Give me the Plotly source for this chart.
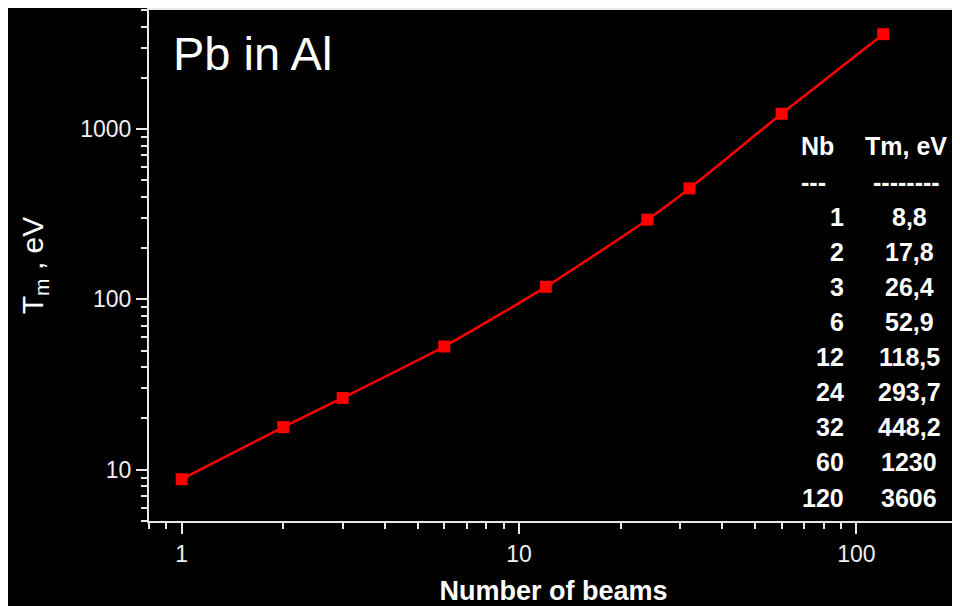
import plotly.graph_objects as go
import math

# Data
beams = [1, 2, 3, 6, 12, 24, 32, 60, 120]
tm_ev = [8.8, 17.8, 26.4, 52.9, 118.5, 293.7, 448.2, 1230, 3606]
tm_labels = ["8,8", "17,8", "26,4", "52,9", "118,5", "293,7", "448,2", "1230", "3606"]
x_tickvals = [1, 10, 100]
x_ticktext = ["1", "10", "100"]
y_tickvals = [10, 100, 1000]
y_ticktext = ["10", "100", "1000"]

# page has an 8px body margin: compensate so the plot area lands where intended
OFF = 8
W, H = 960 - OFF, 606 - OFF
PL, PR, PT, PB = 149, 958, 8, 521   # plot area in window pixels
ML, MR, MT, MB = PL - OFF, 960 - PR, PT - OFF, 606 - PB
FONT = "Arial, Liberation Sans, sans-serif"

fig = go.Figure()
fig.add_trace(go.Scatter(
    x=beams, y=tm_ev, mode="lines+markers",
    line=dict(color="#ff0000", width=2.5, shape="spline", smoothing=0.6),
    marker=dict(symbol="square", size=12, color="#ff0000"),
    showlegend=False, hoverinfo="x+y",
))

def px2paper(px, py):
    return (px - PL) / (PR - PL), 1 - (py - PT) / (PB - PT)

ann = []
tx, ty = px2paper(171, 52)
ann.append(dict(text="Pb in Al", x=tx, y=ty, xref="paper", yref="paper",
                xanchor="left", yanchor="middle", showarrow=False,
                font=dict(family=FONT, size=47, color="white")))

tfont = dict(family=FONT, size=25, color="white")
row0, dy = 145, 35.25
rows_nb = ["<b>Nb</b>", "<b>---</b>"]
rows_tm = ["<b>Tm, eV</b>", "<b>--------</b>"]
for i in range(2):
    x0, y0 = px2paper(799, row0 + dy * i)
    ann.append(dict(text=rows_nb[i], x=x0, y=y0, xref="paper", yref="paper",
                    xanchor="left", yanchor="middle", showarrow=False, font=tfont))
    x1, _ = px2paper(906, row0 + dy * i)
    ann.append(dict(text=rows_tm[i], x=x1, y=y0, xref="paper", yref="paper",
                    xanchor="center", yanchor="middle", showarrow=False, font=tfont))
for j, (b, t) in enumerate(zip(beams, tm_labels)):
    x0, y0 = px2paper(846, row0 + dy * (j + 2))
    ann.append(dict(text=f"<b>{b}</b>", x=x0, y=y0, xref="paper", yref="paper",
                    xanchor="right", yanchor="middle", showarrow=False, font=tfont))
    x1, _ = px2paper(909, row0 + dy * (j + 2))
    ann.append(dict(text=f"<b>{t}</b>", x=x1, y=y0, xref="paper", yref="paper",
                    xanchor="center", yanchor="middle", showarrow=False, font=tfont))

axis_common = dict(
    type="log", showgrid=False, zeroline=False,
    showline=True, linecolor="#e8e8e8", linewidth=2, mirror=True,
    ticks="outside", ticklen=11, tickwidth=2, tickcolor="#e8e8e8",
    tickfont=dict(family=FONT, size=23, color="#f0f0f0"),
    minor=dict(ticks="outside", ticklen=6, tickwidth=2, tickcolor="#e8e8e8", dtick="D1"),
)

fig.update_layout(
    width=W, height=H,
    paper_bgcolor="black", plot_bgcolor="black",
    margin=dict(l=ML, r=MR, t=MT, b=MB),
    xaxis=dict(axis_common, range=[math.log10(0.8), math.log10(200)],
               tickmode="array", tickvals=x_tickvals, ticktext=x_ticktext,
               title=dict(text="<b>Number of beams</b>", standoff=16,
                          font=dict(family=FONT, size=27, color="white"))),
    yaxis=dict(axis_common, range=[math.log10(5), math.log10(5000)],
               tickmode="array", tickvals=y_tickvals, ticktext=y_ticktext,
               title=dict(text="T<sub>m</sub> , eV", standoff=28,
                          font=dict(family=FONT, size=30, color="white"))),
    annotations=ann,
)

fig.write_html("out.html")
